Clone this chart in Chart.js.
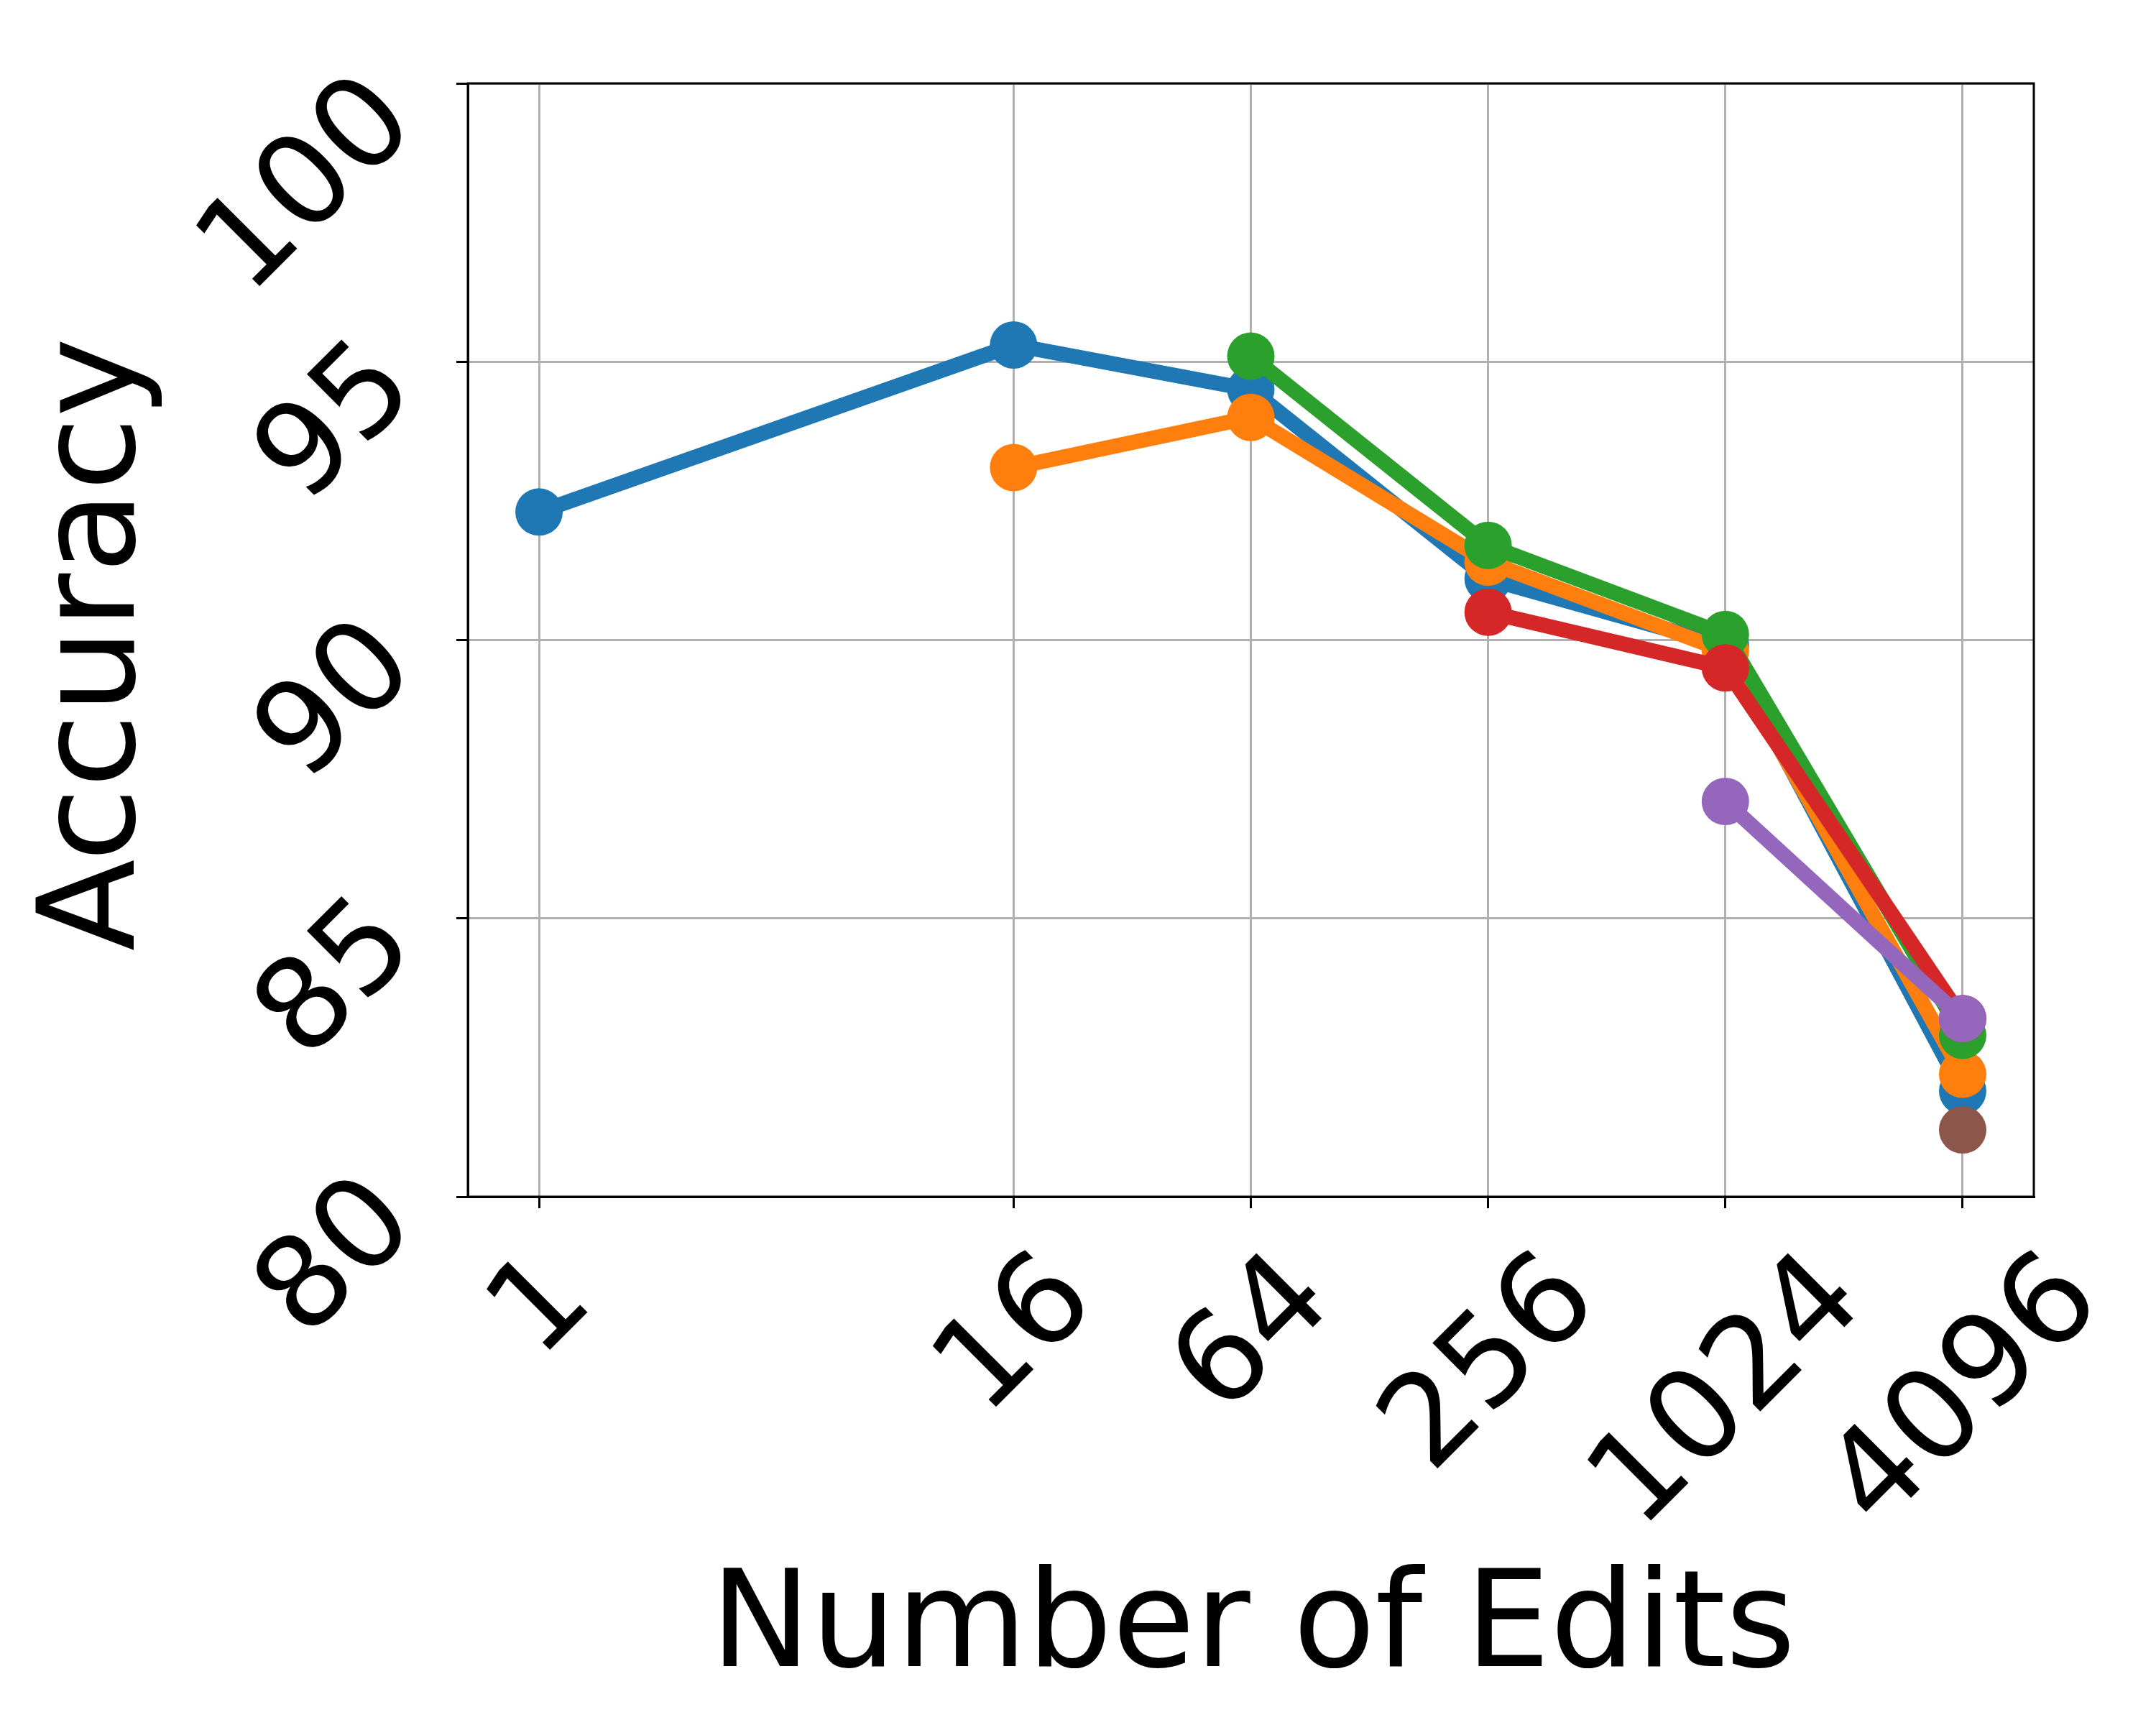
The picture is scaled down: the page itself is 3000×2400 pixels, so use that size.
<!DOCTYPE html>
<html>
<head>
<meta charset="utf-8">
<script src="https://cdn.jsdelivr.net/npm/chart.js@4.4.1/dist/chart.umd.min.js"></script>
<style>
  html, body { margin: 0; padding: 0; background: #fff; }
  canvas { display: block; }
</style>
</head>
<body>
<canvas id="edits-chart" width="3000" height="2400"></canvas>
<script>
// x positions (number of edits) and tick labels
let editCounts = [1, 16, 64, 256, 1024, 4096]
let xTickLabels = ['1', '16', '64', '256', '1024', '4096']
let yTickValues = [80, 85, 90, 95, 100]

// accuracy per run, null where the run has no point
let blueAcc   = [92.3, 95.3, 94.5, 91.1, 89.9, 81.9]
let orangeAcc = [null, 93.1, 94.0, 91.4, 89.8, 82.2]
let greenAcc  = [null, null, 95.1, 91.7, 90.1, 82.9]
let redAcc    = [null, null, null, 90.5, 89.5, 83.2]
let purpleAcc = [null, null, null, null, 87.1, 83.2]
let brownAcc  = [null, null, null, null, null, 81.2]

let seriesList = [blueAcc, orangeAcc, greenAcc, redAcc, purpleAcc, brownAcc]
let seriesColors = ['#1f77b4', '#ff7f0e', '#2ca02c', '#d62728', '#9467bd', '#8c564b']

let fontFamily = '"DejaVu Sans", sans-serif'
let tickFontSize = 176
let labelFontSize = 187

function toPoints(values) {
    let pts = []
    values.forEach(function (v, i) {
        if (v !== null) pts.push({ x: editCounts[i], y: v })
    })
    return pts
}

let datasets = seriesList.map(function (values, i) {
    return {
        data: toPoints(values),
        borderColor: seriesColors[i],
        backgroundColor: seriesColors[i],
        pointBackgroundColor: seriesColors[i],
        pointBorderWidth: 0,
        pointRadius: 33,
        borderWidth: 21,
        borderJoinStyle: 'round',
        fill: false,
        tension: 0,
        order: seriesList.length - i   // first series at the bottom, like matplotlib
    }
})

// draws the frame, the rotated tick labels and the axis titles
let textPlugin = {
    id: 'mplText',
    afterDraw: function (chart) {
        let ctx = chart.ctx
        let area = chart.chartArea
        let xScale = chart.scales.x
        let yScale = chart.scales.y
        let r2 = Math.SQRT2

        ctx.save()
        ctx.strokeStyle = '#000'
        ctx.lineWidth = 3
        ctx.strokeRect(area.left, area.top, area.right - area.left, area.bottom - area.top)

        ctx.fillStyle = '#000'
        ctx.font = tickFontSize + 'px ' + fontFamily
        ctx.textAlign = 'center'
        ctx.textBaseline = 'alphabetic'

        // x tick labels, 45 degrees, centred on the tick
        editCounts.forEach(function (v, i) {
            let label = xTickLabels[i]
            let w = ctx.measureText(label).width
            let cx = xScale.getPixelForValue(v) - 6
            let cy = area.bottom + 104 + w / (2 * r2)
            ctx.save()
            ctx.translate(cx, cy)
            ctx.rotate(-Math.PI / 4)
            ctx.fillText(label, 0, 0.3645 * tickFontSize)
            ctx.restore()
        })

        // y tick labels, 45 degrees, right end near the tick
        yTickValues.forEach(function (v) {
            let label = String(v)
            let w = ctx.measureText(label).width
            let ty = yScale.getPixelForValue(v)
            let cx = area.left - 113 - w / (2 * r2)
            let cy = ty + 0.51 * w - 38
            ctx.save()
            ctx.translate(cx, cy)
            ctx.rotate(-Math.PI / 4)
            ctx.fillText(label, 0, 0.3645 * tickFontSize)
            ctx.restore()
        })

        // axis titles
        ctx.font = labelFontSize + 'px ' + fontFamily
        ctx.fillText('Number of Edits', (area.left + area.right) / 2 + 3, 2318)

        ctx.save()
        ctx.translate(186, (area.top + area.bottom) / 2 + 6)
        ctx.rotate(-Math.PI / 2)
        ctx.fillText('Accuracy', 0, 0)
        ctx.restore()

        ctx.restore()
    }
}

let canvas = document.querySelector('#edits-chart')
let editsChart = new Chart(canvas.getContext('2d'), {
    type: 'line',
    data: { datasets: datasets },
    options: {
        responsive: false,
        animation: false,
        devicePixelRatio: 1,
        layout: { padding: { top: 116, right: 170, left: 0, bottom: 0 } },
        plugins: { legend: { display: false }, tooltip: { enabled: false } },
        scales: {
            x: {
                type: 'logarithmic',
                min: Math.pow(2, -0.6),
                max: Math.pow(2, 12.6),
                afterBuildTicks: function (scale) {
                    scale.ticks = editCounts.map(function (v) { return { value: v } })
                },
                afterFit: function (scale) { scale.height = 735 },
                ticks: { display: false },
                grid: { color: '#b0b0b0', lineWidth: 3, tickLength: 16, tickColor: '#000', tickWidth: 3 },
                border: { color: '#000', width: 3 }
            },
            y: {
                type: 'linear',
                min: 80,
                max: 100,
                afterBuildTicks: function (scale) {
                    scale.ticks = yTickValues.map(function (v) { return { value: v } })
                },
                afterFit: function (scale) { scale.width = 651 },
                ticks: { display: false },
                grid: { color: '#b0b0b0', lineWidth: 3, tickLength: 16, tickColor: '#000', tickWidth: 3 },
                border: { color: '#000', width: 3 }
            }
        }
    },
    plugins: [textPlugin]
})
</script>
</body>
</html>
